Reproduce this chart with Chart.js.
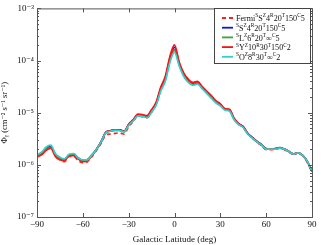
<!DOCTYPE html>
<html><head><meta charset="utf-8">
<script src="https://cdn.jsdelivr.net/npm/chart.js@4/dist/chart.umd.min.js"></script>
<style>html,body{margin:0;padding:0;background:#fff}#wrap{width:324px;height:245px}</style>
</head><body><div id="wrap"><canvas id="c" width="324" height="245"></canvas></div>
<script>
const latitudes = [-90,-87,-84,-81,-78,-75,-72,-69,-66,-63,-60,-57,-54,-51,-48,-45,-42,-39,-36,-33,-30,-27,-24,-21,-18,-15,-12,-9,-6,-3,0,3,6,9,12,15,18,21,24,27,30,33,36,39,42,45,48,51,54,57,60,63,66,69,72,75,78,81,84,87,90];
// flux in units of 1e-6 cm^-2 s^-1 sr^-1
const fermiData = [1.45,1.6,1.95,2.1,1.5,1.25,1.15,1.45,1.45,1.2,1.1,1.15,1.45,1.9,2.6,3.7,3.9,4.0,4.1,3.9,5.4,6.8,8.6,8.4,8.0,10.2,14.5,27,44,105,170,88,53,41,36,38,31,25,20.5,16.5,14,11.5,11.3,7.6,6.1,5.2,3.9,3.3,2.7,2.35,1.95,1.95,2.0,2.15,1.95,1.75,1.6,1.7,1.5,1.1,0.72];
const modelSS = [1.5,1.65,2.05,2.25,1.6,1.35,1.25,1.55,1.6,1.35,1.2,1.25,1.55,2.0,2.8,4.2,4.5,4.7,4.7,4.4,5.9,7.2,9.0,8.8,8.3,10.8,15,29,46,110,180,90,55,42,36.5,38.5,31,25.5,20.5,16.5,14.3,11.8,11.3,7.7,6.1,5.4,4.0,3.35,2.8,2.45,2.05,2.0,2.05,2.1,2.0,1.8,1.62,1.7,1.5,1.15,0.75];
const modelSL = [1.5,1.65,2.0,2.2,1.55,1.35,1.25,1.55,1.55,1.3,1.2,1.25,1.55,2.0,2.75,4.1,4.4,4.6,4.6,4.3,5.8,7.1,8.9,8.7,8.2,10.5,14.5,28,43,100,160,85,52,40,35,37,30,24.5,20,16,14,11.5,11,7.5,6,5.3,3.9,3.3,2.75,2.4,2.0,2.0,2.0,2.1,2.0,1.8,1.6,1.7,1.5,1.15,0.74];
const modelSY = [1.4,1.55,1.9,2.1,1.45,1.25,1.2,1.5,1.5,1.3,1.15,1.2,1.5,2.0,2.75,4.2,4.5,4.7,4.7,4.4,6.0,7.4,9.4,9.2,8.8,11.5,16,31,50,120,200,95,58,44,38,40,32,26,21.5,17,14.8,12,11.6,7.8,6.2,5.4,4.0,3.3,2.8,2.4,2.0,2.0,2.05,2.15,2.0,1.8,1.6,1.7,1.5,1.15,0.74];
const modelSO = [1.55,1.75,2.2,2.4,1.65,1.4,1.3,1.6,1.65,1.35,1.25,1.25,1.55,2.0,2.75,4.1,4.4,4.6,4.55,4.3,5.7,7.0,8.7,8.5,8.0,10.2,14,26,40,92,145,80,50,38,33.5,35.5,29,23.5,19,15.5,13.5,11.2,10.7,7.3,5.9,5.2,3.85,3.25,2.75,2.4,2.0,2.0,2.0,2.1,2.0,1.8,1.6,1.7,1.5,1.15,0.75];
const seriesNames = ["Fermi^SS^Z4^R20^T150^C5","^SS^Z4^R20^T150^C5","^SL^Z6^R20^T\u221E^C5","^SY^Z10^R30^T150^C2","^SO^Z8^R30^T\u221E^C2"];
const xTicks = [-90,-60,-30,0,30,60,90];
const yTicks = [1e-7,1e-6,1e-5,1e-4,1e-3];
const yTickLabels = ["10\u207B\u2077","10\u207B\u2076","10\u207B\u2075","10\u207B\u2074","10\u207B\u00B3"];

const SERIF = "'Liberation Serif','DejaVu Serif',serif";
const colors = ['#ff2020','#1010ee','#33a833','#ff1010','#30d0cc'];
const dashes = [[4,3],[],[],[],[]];
const orders = [1,4,3,2,0];
const allSeries = [fermiData, modelSS, modelSL, modelSY, modelSO];

const datasets = allSeries.map((arr,i)=>({
  label: seriesNames[i],
  data: arr.map((v,j)=>({x: latitudes[j], y: v*1e-6})),
  borderColor: colors[i],
  borderWidth: 1.7,
  borderDash: dashes[i],
  pointRadius: 0,
  fill: false,
  cubicInterpolationMode: 'monotone',
  order: orders[i]
}));

function drawRich(ctx, s, x, y, size){
  let cx = x;
  for(let k=0;k<s.length;k++){
    let ch = s[k], sup=false;
    if(ch==='^'){ sup=true; k++; ch=s[k]; }
    ctx.font = (sup? (size*0.66):size)+"px "+SERIF;
    ctx.fillText(ch, cx, sup? y-size*0.36 : y);
    cx += ctx.measureText(ch).width;
  }
}

const framePlugin = {
  id:'frame',
  afterDatasetsDraw(chart){
    const {ctx, chartArea:a, scales} = chart;
    ctx.save();
    ctx.strokeStyle='#555'; ctx.lineWidth=1;
    ctx.strokeRect(a.left+0.5, a.top+0.5, a.right-a.left, a.bottom-a.top);
    ctx.beginPath();
    xTicks.forEach(v=>{
      const px = Math.round(scales.x.getPixelForValue(v))+0.5;
      ctx.moveTo(px,a.bottom); ctx.lineTo(px,a.bottom-4);
      ctx.moveTo(px,a.top); ctx.lineTo(px,a.top+4);
    });
    for(let e=-7;e<=-3;e++){
      for(let m=1;m<10;m++){
        if(e===-3 && m>1) break;
        const v = m*Math.pow(10,e);
        const py = Math.round(scales.y.getPixelForValue(v))+0.5;
        const L = m===1?4:2;
        ctx.moveTo(a.left,py); ctx.lineTo(a.left+L,py);
        ctx.moveTo(a.right,py); ctx.lineTo(a.right-L,py);
      }
    }
    ctx.stroke();
    // legend
    const bx=214, by=8, bw=96, bh=55;
    ctx.fillStyle='#fff';
    ctx.fillRect(bx,by,bw,bh);
    ctx.strokeStyle='#444';
    ctx.strokeRect(bx+0.5,by+0.5,bw,bh);
    ctx.textBaseline='middle';
    ctx.textAlign='left';
    seriesNames.forEach((name,i)=>{
      const yy = by+10+i*9.7;
      ctx.strokeStyle=colors[i]; ctx.lineWidth=1.8; ctx.setLineDash(dashes[i]);
      ctx.beginPath(); ctx.moveTo(bx+8,yy); ctx.lineTo(bx+19,yy); ctx.stroke();
      ctx.setLineDash([]);
      ctx.fillStyle='#111';
      drawRich(ctx, name, bx+22, yy+1, 8.1);
    });
    ctx.restore();
  }
};

new Chart(document.getElementById('c'), {
  type:'line',
  data:{datasets},
  options:{
    responsive:false, animation:false,
    devicePixelRatio:1,
    layout:{padding:{top:5,right:12,left:0,bottom:0}},
    plugins:{legend:{display:false}, tooltip:{enabled:false}},
    scales:{
      x:{
        type:'linear', min:-90, max:90,
        afterBuildTicks(s){ s.ticks = xTicks.map(v=>({value:v})); },
        afterFit(s){ s.height = 28; },
        grid:{display:false, drawTicks:false},
        border:{display:false},
        ticks:{color:'#111', padding:2, maxRotation:0, font:{family:SERIF,size:9},
          callback:(v)=> v<0 ? '\u2212'+Math.abs(v) : String(v)},
        title:{display:true, text:'Galactic Latitude (deg)', color:'#111', font:{family:SERIF,size:9}, padding:{top:1,bottom:0}}
      },
      y:{
        type:'logarithmic', min:1e-7, max:1e-3,
        afterBuildTicks(s){ s.ticks = yTicks.map(v=>({value:v})); },
        afterFit(s){ s.width = 37; },
        grid:{display:false, drawTicks:false},
        border:{display:false},
        ticks:{color:'#111', padding:3, font:{family:SERIF,size:9},
          callback:(v)=>{ const i=yTicks.findIndex(t=>Math.abs(t-v)/t<1e-6); return i>=0? yTickLabels[i] : ''; }},
        title:{display:true, text:'\u03A6\u1D67 (cm\u207B\u00B2 s\u207B\u00B9 sr\u207B\u00B9)', color:'#111', font:{family:SERIF,size:8.5}, padding:{top:0,bottom:0}}
      }
    }
  },
  plugins:[framePlugin]
});
</script></body></html>
